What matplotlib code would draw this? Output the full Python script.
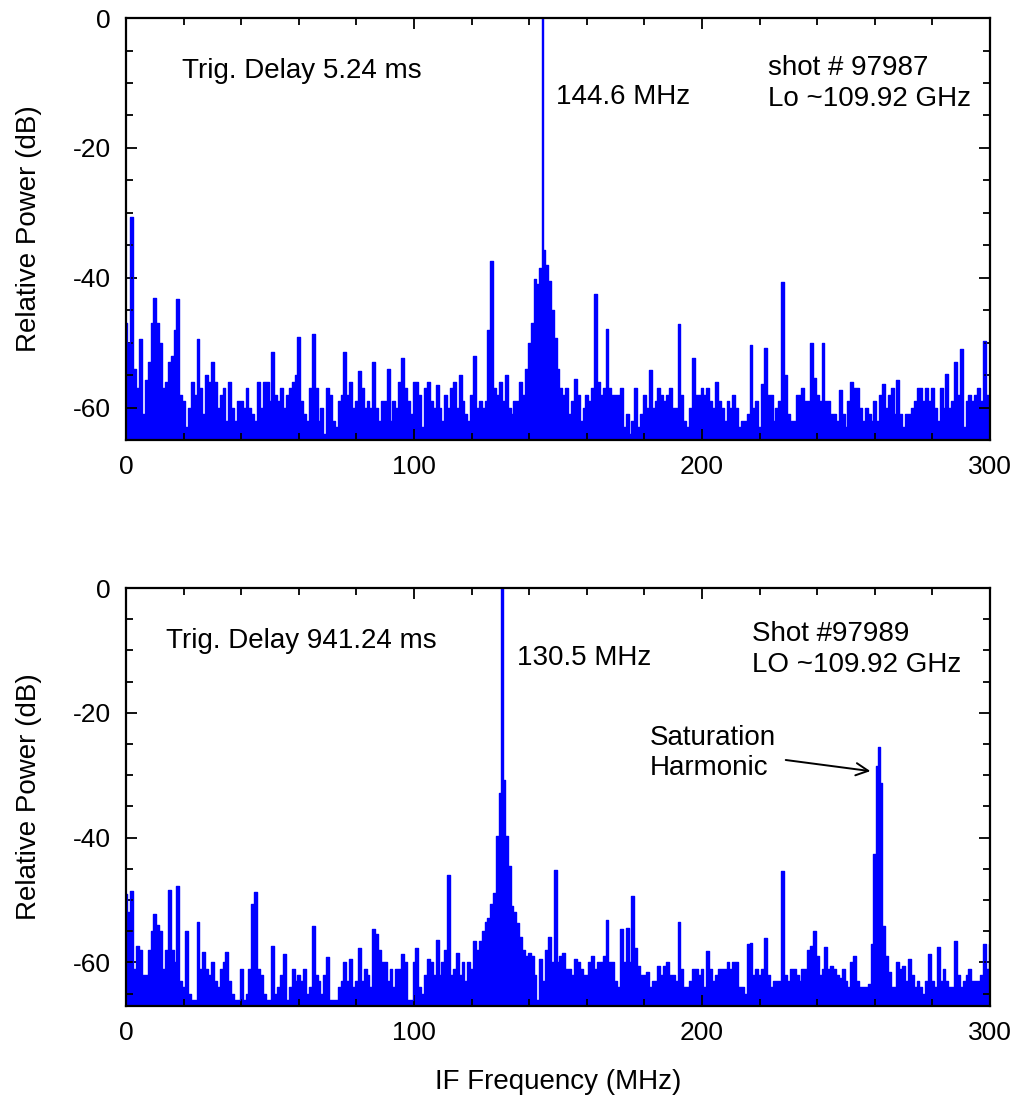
import matplotlib
matplotlib.use("Agg")
import matplotlib.pyplot as plt
from matplotlib.ticker import MultipleLocator
import numpy as np

plt.rcParams['font.family'] = ['Liberation Sans', 'DejaVu Sans']
plt.rcParams['axes.unicode_minus'] = False

# IF frequency grid (MHz), one reading per MHz
freq = np.arange(0, 301)

# trace (shot 97987, delay 5.24 ms), dB
top_db = [
    -47, -50, -30.6, -54, -57, -49.4, -61, -55.7, -53, -47,
    -43.1, -47, -50, -57, -56, -53, -52, -48, -43.2, -58,
    -59, -63, -60, -56, -58, -49.5, -57, -61, -55, -56,
    -53, -56, -60, -58, -57, -62, -56, -60, -62, -59,
    -59, -60, -57, -60, -61, -62, -56, -60, -56, -56,
    -59, -51.5, -58, -59, -57, -60, -58, -57, -56, -55,
    -49.2, -59, -61, -62, -57, -48.7, -57, -62, -60, -64,
    -57, -58, -62, -63, -59, -58, -51.4, -58, -56, -60,
    -59, -54.4, -57, -60, -59, -60, -53, -60, -62, -59,
    -59, -54, -62, -59, -60, -56, -52.4, -57, -59, -61,
    -56, -56, -58, -63, -57, -56, -59, -60, -56.5, -60,
    -62, -58, -60, -57, -56, -60, -55, -59, -61, -62,
    -58, -52.1, -60, -59, -60, -59, -48, -37.4, -57, -58,
    -56, -59, -55, -60, -61, -59, -59, -56, -58, -54,
    -50, -47, -40.2, -41, -38.5, -35.7, -38, -40.5, -45, -49.3,
    -54, -57, -58, -57, -61, -59, -55.6, -58, -62, -60,
    -58, -59, -57, -42.5, -56, -58, -57, -47.9, -57, -58,
    -58, -58, -57, -63, -61, -64, -62, -57, -63, -61,
    -58, -60, -54.2, -60, -59, -57, -58, -59, -58, -57,
    -60, -60, -47.1, -58, -62, -63, -60, -52.4, -58, -58,
    -57, -58, -57, -59, -60, -56, -59, -60, -62, -59,
    -60, -58, -60, -63, -62, -62, -61, -50.3, -60, -59,
    -63, -56.4, -50.9, -58, -58, -62, -60, -59, -40.6, -55,
    -61, -62, -62, -58, -58, -57, -59, -59, -50.1, -55.4,
    -58, -59, -50, -59, -59, -61, -61, -62, -57.3, -61,
    -63, -59, -56, -57, -57, -60, -62, -60, -61, -62,
    -59, -62, -58, -56.3, -60, -58, -57, -61, -55.7, -61,
    -63, -61, -61, -60, -59, -57, -57, -59, -57, -59,
    -57, -60, -62, -57, -60, -54.9, -60, -59, -53, -58,
    -51, -63, -59, -58, -59, -58, -57, -59, -49.7, -58,
    -59,
]
top_peak_f = [144.6]
top_peak_db = [0.0]

# trace (shot 97989, delay 941.24 ms), dB
bot_db = [
    -49, -52, -48.6, -61, -57.4, -58, -62, -62, -58, -55,
    -52.3, -54, -55, -61, -58, -48.4, -58, -60, -47.8, -63,
    -64, -55, -65, -66, -66, -53.5, -61, -58.4, -61, -62,
    -60, -63, -64, -61, -60, -58.4, -63, -65, -66, -66,
    -61, -66, -65, -61, -50.6, -48.7, -61, -62, -65, -66,
    -66, -57.4, -65, -64, -62, -58.7, -66, -64, -61, -63,
    -62, -63, -61, -65, -64, -54.2, -62, -63, -65, -62,
    -59.1, -66, -66, -66, -64, -63, -60, -63, -59.5, -64,
    -63, -57.7, -63, -61, -62, -64, -54.7, -55.5, -58, -60,
    -60, -63, -61, -64, -61, -61, -58.7, -60, -66, -66,
    -60, -57.7, -64, -65, -62, -59.5, -60, -62, -56.4, -62,
    -60, -58, -46, -62, -61, -58.5, -62, -60, -63, -60,
    -61, -56.5, -58, -56.6, -55, -53.6, -52.9, -50.7, -48.9, -39.8,
    -32.8, -30.7, -39.8, -44.6, -51, -52, -53.7, -56, -58, -59,
    -58.5, -59, -62, -66, -59.5, -63, -58, -56, -60, -45.2,
    -60, -59, -58.5, -61, -61, -62, -59.5, -60, -61, -62,
    -62, -60, -59, -61, -60, -60, -59, -53.2, -60, -60,
    -63, -64, -54.7, -60, -54.5, -60, -49.4, -57.7, -60.5, -62,
    -62, -61.5, -64, -63, -63, -60.5, -62, -60.5, -60, -62,
    -62, -63, -53.6, -61, -64, -64, -63, -61, -61, -62,
    -61, -64, -58.1, -61, -63, -62, -61, -61, -61, -60,
    -61, -60, -60, -64, -64, -65, -57, -56.9, -62, -61,
    -62, -61, -56.1, -62, -64, -63, -63, -63, -45.4, -62,
    -63, -61, -61, -62, -63, -61, -61, -58, -57.3, -54.9,
    -59, -62, -61, -57.6, -61, -60.5, -61, -62, -62.5, -61,
    -63, -64, -60, -59, -63, -64, -64, -64, -63.5, -57,
    -42.7, -28.6, -31.3, -54.2, -59, -61.5, -64, -64, -60, -61,
    -60.5, -63, -59.5, -62, -64, -63, -64, -65, -63, -58.7,
    -63, -64, -57.5, -63, -61, -63, -64, -64, -56.5, -62,
    -64, -63, -62, -61, -63, -63, -63, -62, -57.1, -61,
    -57,
]
bot_peak_f = [130.5, 261.4]
bot_peak_db = [0.0, -25.5]


def merged(f_grid, db_grid, pk_f, pk_db):
    x = np.concatenate([f_grid, pk_f])
    y = np.concatenate([db_grid, pk_db])
    order = np.argsort(x, kind="stable")
    return x[order], y[order]


fig = plt.figure(figsize=(10.19, 11.14), dpi=100)
ax1 = fig.add_axes([0.1237, 0.6050, 0.8479, 0.3788])
ax2 = fig.add_axes([0.1237, 0.0969, 0.8479, 0.3752])

panels = [
    (ax1, top_db, top_peak_f, top_peak_db, -65),
    (ax2, bot_db, bot_peak_f, bot_peak_db, -67),
]
for ax, db, pf, pdb, ymin in panels:
    x, y = merged(freq, np.array(db, dtype=float), pf, pdb)
    ax.fill_between(x, y, ymin - 5, color="blue", lw=0, step="mid")
    ax.step(x, y, where="mid", color="blue", lw=1.0)
    ax.set_xlim(0, 300)
    ax.set_ylim(ymin, 0)
    ax.xaxis.set_major_locator(MultipleLocator(100))
    ax.xaxis.set_minor_locator(MultipleLocator(20))
    ax.yaxis.set_major_locator(MultipleLocator(20))
    ax.yaxis.set_minor_locator(MultipleLocator(5))
    ax.tick_params(which="both", direction="in", top=True, right=True,
                   width=1.3, labelsize=19, pad=11)
    ax.tick_params(which="major", length=8)
    ax.tick_params(which="minor", length=5)
    for sp in ax.spines.values():
        sp.set_linewidth(1.6)
    ax.set_ylabel("Relative Power (dB)", fontsize=20)
    ax.yaxis.set_label_coords(-0.097, 0.5)

ax1.text(19.4, -8.2, "Trig. Delay 5.24 ms", fontsize=20, va="center")
ax1.text(149.3, -12.2, "144.6 MHz", fontsize=20, va="center")
ax1.text(222.9, -7.7, "shot # 97987", fontsize=20, va="center")
ax1.text(222.9, -12.5, "Lo ~109.92 GHz", fontsize=20, va="center")

ax2.text(13.9, -8.5, "Trig. Delay 941.24 ms", fontsize=20, va="center")
ax2.text(135.8, -11.2, "130.5 MHz", fontsize=20, va="center")
ax2.text(217.4, -7.4, "Shot #97989", fontsize=20, va="center")
ax2.text(217.4, -12.3, "LO ~109.92 GHz", fontsize=20, va="center")
ax2.text(181.9, -26.4, "Saturation\nHarmonic", fontsize=20, va="center",
         linespacing=1.2)
ax2.annotate("", xy=(259.4, -29.4), xytext=(228.1, -27.5),
             arrowprops=dict(arrowstyle="->", color="black", lw=1.4,
                             mutation_scale=22))

ax2.set_xlabel("IF Frequency (MHz)", fontsize=20)
ax2.xaxis.set_label_coords(0.5, -0.15)

fig.savefig("out.png", dpi=100)
